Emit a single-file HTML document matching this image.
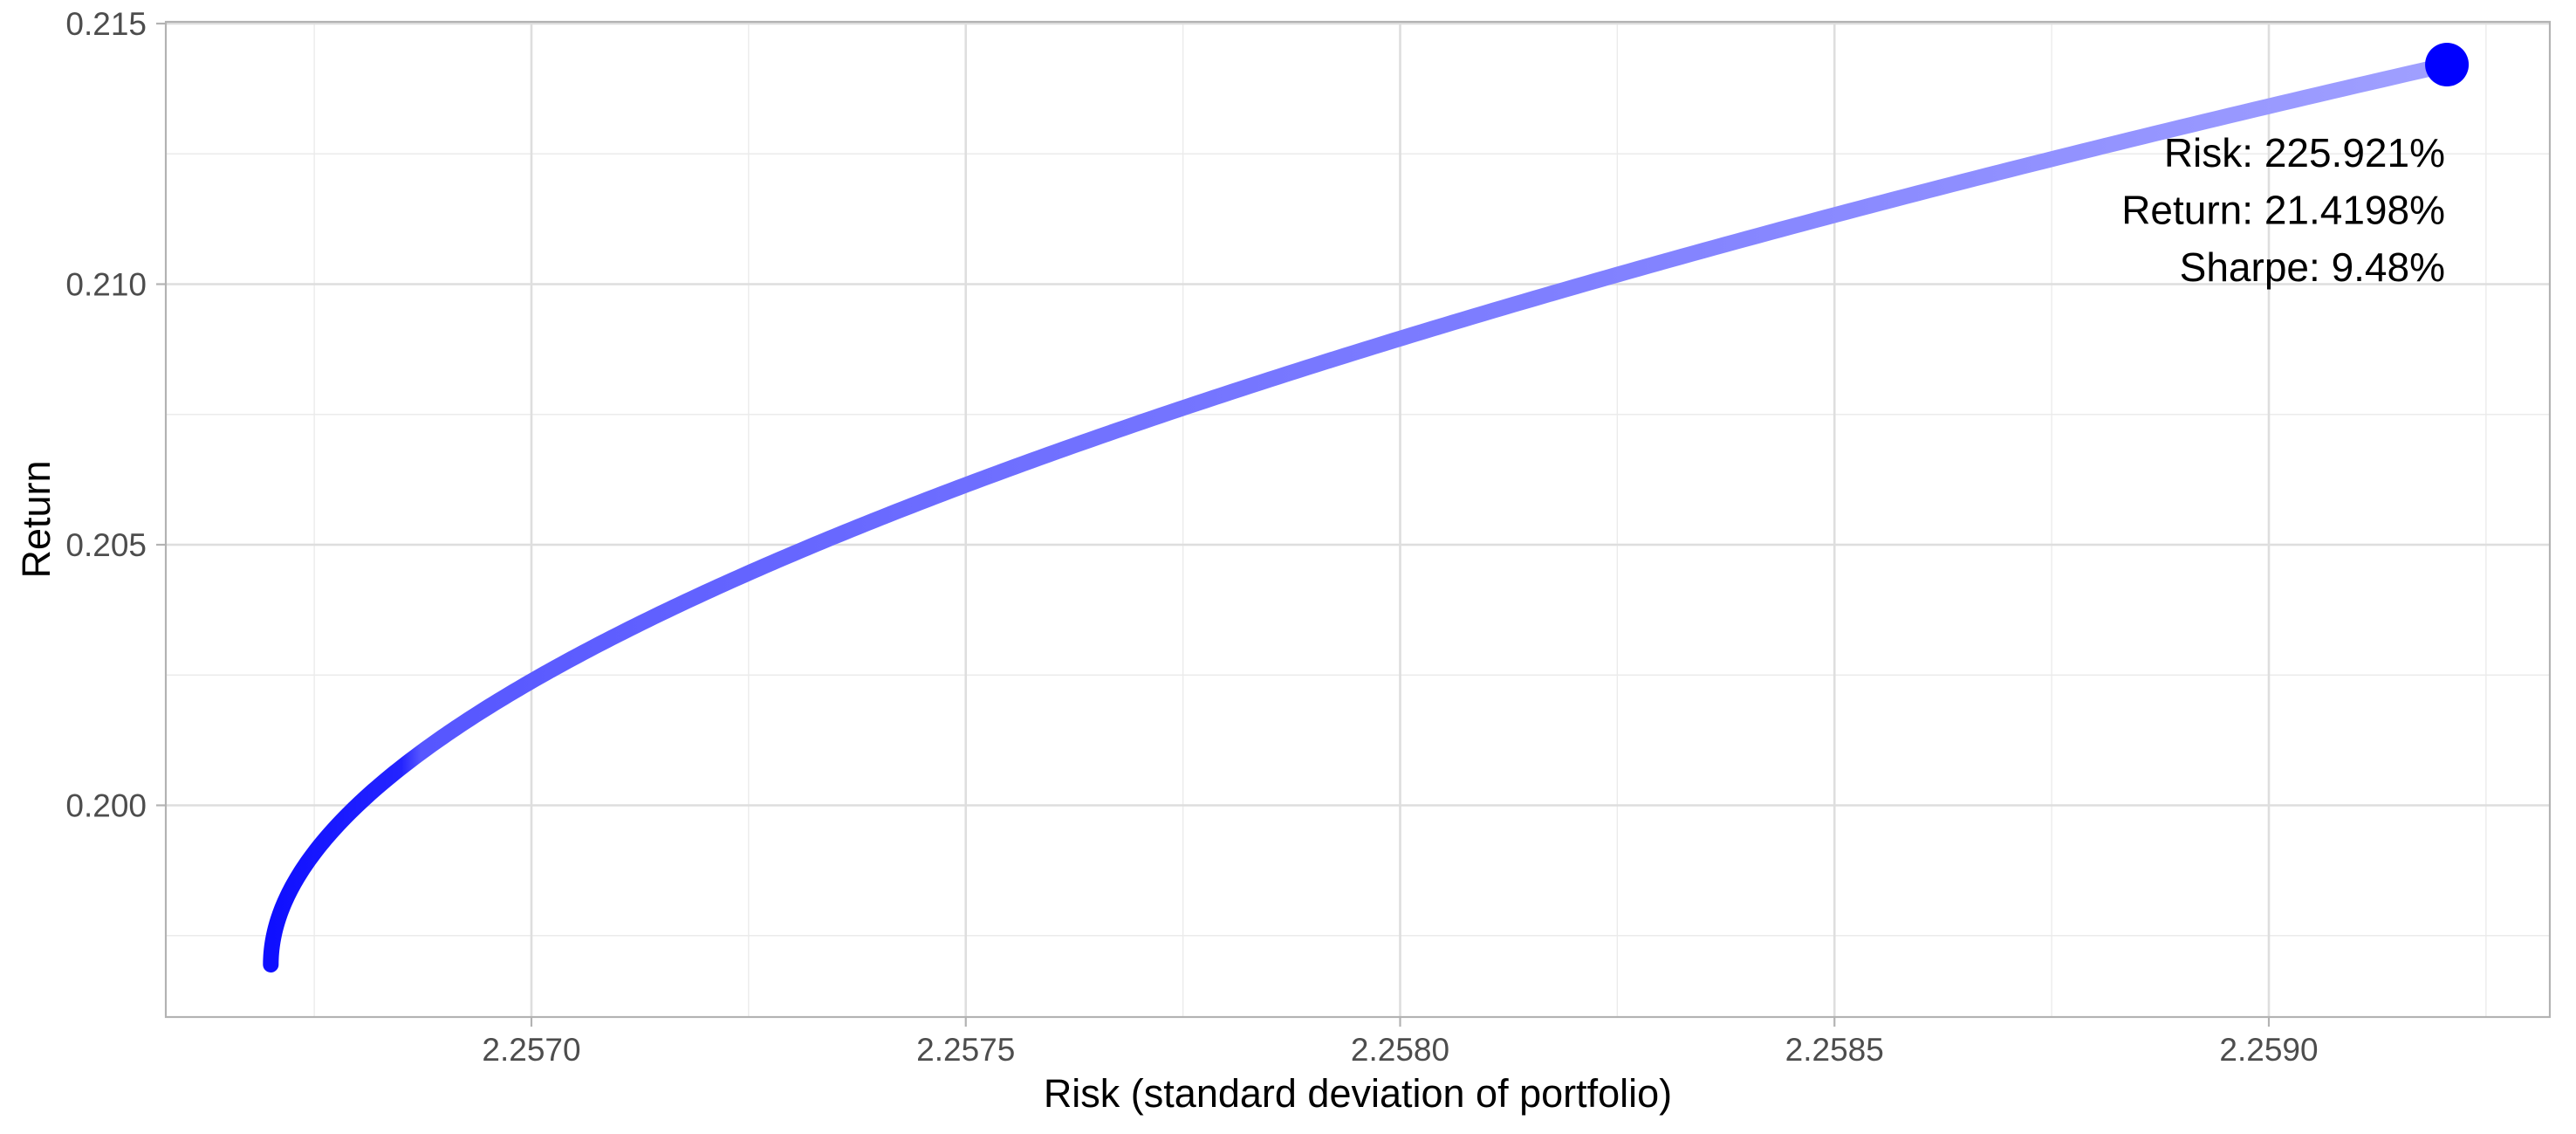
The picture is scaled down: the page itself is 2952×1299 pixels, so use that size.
<!DOCTYPE html>
<html><head><meta charset="utf-8"><style>
html,body{margin:0;padding:0;background:#fff;}
svg{display:block;font-family:"Liberation Sans",Arial,sans-serif;}
</style></head><body>
<svg id="chart" width="2952" height="1299" viewBox="0 0 2952 1299" xmlns="http://www.w3.org/2000/svg">
<defs>
<linearGradient id="lineGrad" gradientUnits="userSpaceOnUse" x1="313" y1="0" x2="2804" y2="0">
<stop offset="0" stop-color="#0f0fff"/>
<stop offset="0.059" stop-color="#2424ff"/>
<stop offset="0.068" stop-color="#5656ff"/>
<stop offset="0.32" stop-color="#6e6eff"/>
<stop offset="0.6" stop-color="#8080ff"/>
<stop offset="1" stop-color="#a0a0ff"/>
</linearGradient>
</defs>
<g id="grid"></g>
<g id="marks"></g>
<g id="axes"></g>
</svg>
<script>
const riskValues = [2.256704, 2.256708, 2.256713, 2.256727, 2.256745, 2.256767, 2.256797, 2.256837, 2.256880, 2.256936, 2.257000, 2.257249, 2.257500, 2.257749, 2.257999, 2.258250, 2.258500, 2.258750, 2.259000, 2.259205];
const returnValues = [0.196943, 0.197479, 0.197864, 0.198417, 0.198987, 0.199539, 0.199980, 0.200662, 0.201214, 0.201767, 0.202353, 0.204380, 0.206122, 0.207580, 0.209003, 0.210209, 0.211315, 0.212387, 0.213409, 0.214213];
const xTicks = [2.2570, 2.2575, 2.2580, 2.2585, 2.2590];
const xTickLabels = ["2.2570", "2.2575", "2.2580", "2.2585", "2.2590"];
const xMinor = [2.25675, 2.25725, 2.25775, 2.25825, 2.25875, 2.25925];
const yTicks = [0.200, 0.205, 0.210, 0.215];
const yTickLabels = ["0.200", "0.205", "0.210", "0.215"];
const yMinor = [0.1975, 0.2025, 0.2075, 0.2125];
const annotationLines = ["Risk: 225.921%", "Return: 21.4198%", "Sharpe: 9.48%"];

const NS = "http://www.w3.org/2000/svg";
const P = {l:190, r:2922, t:25, b:1165};
const X = v => 609 + (v - 2.2570) / 0.001 * 995.5;
const Y = v => 27 + (0.215 - v) / 0.01 * 597;
function mk(tag, attrs, parent){ const e=document.createElementNS(NS,tag); for(const k in attrs) e.setAttribute(k,attrs[k]); parent.appendChild(e); return e; }
const grid=document.getElementById('grid'), marks=document.getElementById('marks'), axes=document.getElementById('axes');

xMinor.forEach(v=>{ const e=mk('line',{x1:X(v),x2:X(v),y1:P.t,y2:P.b,stroke:'#ebebeb','stroke-width':1.4},grid);

 });
yMinor.forEach(v=>{ const e=mk('line',{x1:P.l,x2:P.r,y1:Y(v),y2:Y(v),stroke:'#ebebeb','stroke-width':1.4},grid);

 });
xTicks.forEach(v=>{ const e=mk('line',{x1:X(v),x2:X(v),y1:P.t,y2:P.b,stroke:'#dedede','stroke-width':2.6},grid);

 });
yTicks.forEach(v=>{ const e=mk('line',{x1:P.l,x2:P.r,y1:Y(v),y2:Y(v),stroke:'#dedede','stroke-width':2.6},grid);

 });

// Smooth frontier: least-squares fit risk = a0 + a2 t^2 + a3 t^3 + a4 t^4, t = return - first return
const r0 = returnValues[0], r1 = returnValues[returnValues.length-1];
const basis = t => [1, t*t, t*t*t, t*t*t*t];
const N=4; let M=[], R=new Array(N).fill(0);
for(let a=0;a<N;a++) M.push(new Array(N).fill(0));
returnValues.forEach((r,i)=>{ const f=basis((r-r0)*100); const yv=(riskValues[i]-2.257)*1000;
  for(let a=0;a<N;a++){ R[a]+=f[a]*yv; for(let b2=0;b2<N;b2++) M[a][b2]+=f[a]*f[b2]; } });
function solve(A,B){ const n=B.length; A=A.map(r=>r.slice()); B=B.slice();
  for(let i=0;i<n;i++){ let p=i; for(let k=i+1;k<n;k++) if(Math.abs(A[k][i])>Math.abs(A[p][i])) p=k;
    [A[i],A[p]]=[A[p],A[i]]; [B[i],B[p]]=[B[p],B[i]];
    for(let k=i+1;k<n;k++){ const f=A[k][i]/A[i][i]; for(let j=i;j<n;j++) A[k][j]-=f*A[i][j]; B[k]-=f*B[i]; } }
  const x=new Array(n).fill(0); for(let i=n-1;i>=0;i--){ let s=B[i]; for(let j=i+1;j<n;j++) s-=A[i][j]*x[j]; x[i]=s/A[i][i]; } return x; }
const coef = solve(M,R);
let d='';
for(let k=0;k<=300;k++){
  const r = r0 + (r1-r0)*k/300;
  const f = basis((r-r0)*100);
  let v=0; for(let a=0;a<N;a++) v+=coef[a]*f[a];
  const risk = 2.257 + v/1000;
  d += (d?' L':'M')+X(risk).toFixed(2)+','+Y(r).toFixed(2);
}
const line = mk('path',{d:d,fill:'none',stroke:'url(#lineGrad)','stroke-width':18,'stroke-linecap':'round','stroke-linejoin':'round'},marks);



const last = riskValues.length-1;
const dot = mk('circle',{cx:X(riskValues[last]),cy:Y(returnValues[last]),r:25,fill:'#0000ff'},marks);



const ann = mk('g',{},marks);


annotationLines.forEach((s,i)=>{ const t=mk('text',{x:2802,y:191+i*65.5,'text-anchor':'end','font-size':46,fill:'#000'},ann); t.textContent=s;

 });

const border = mk('rect',{x:P.l,y:P.t,width:P.r-P.l,height:P.b-P.t,fill:'none',stroke:'#b3b3b3','stroke-width':2.2},axes);



xTicks.forEach((v,i)=>{
  const tk=mk('line',{x1:X(v),x2:X(v),y1:P.b,y2:P.b+11,stroke:'#b3b3b3','stroke-width':2.2},axes);
  
  
  const t=mk('text',{x:X(v),y:1215,'text-anchor':'middle','font-size':37,fill:'#4d4d4d'},axes); t.textContent=xTickLabels[i];
  
  
});
yTicks.forEach((v,i)=>{
  const tk=mk('line',{x1:P.l-11,x2:P.l,y1:Y(v),y2:Y(v),stroke:'#b3b3b3','stroke-width':2.2},axes);
  
  
  const t=mk('text',{x:168,y:Y(v)+13,'text-anchor':'end','font-size':37,fill:'#4d4d4d'},axes); t.textContent=yTickLabels[i];
  
  
});
const xt=mk('text',{x:(P.l+P.r)/2,y:1268,'text-anchor':'middle','font-size':45,fill:'#000'},axes);
xt.textContent='Risk (standard deviation of portfolio)';


const yt=mk('text',{x:0,y:0,'text-anchor':'middle','font-size':45,fill:'#000',transform:`translate(57,${(P.t+P.b)/2}) rotate(-90)`},axes);
yt.textContent='Return';


</script>
</body></html>
